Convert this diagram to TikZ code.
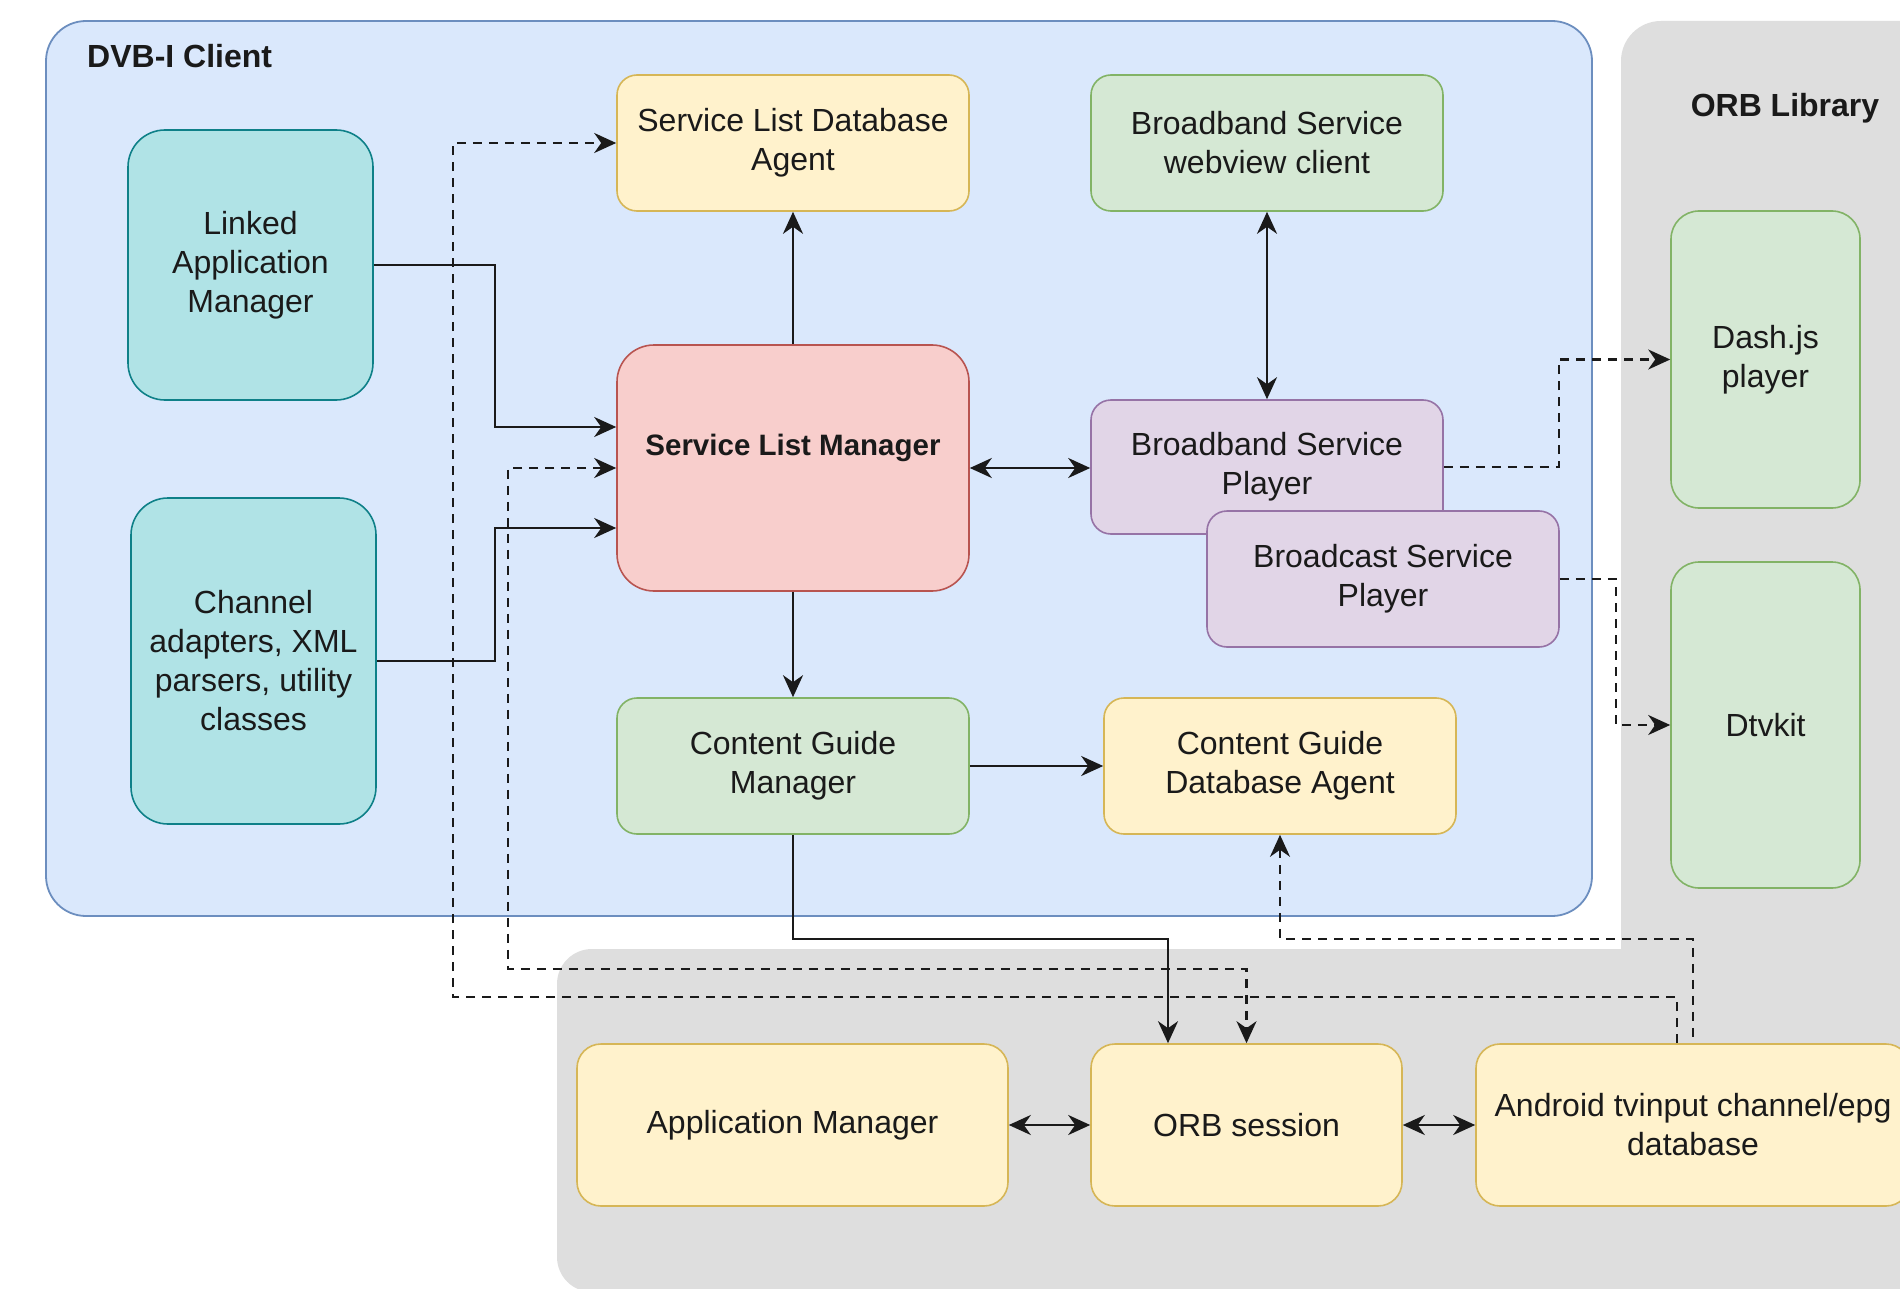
\documentclass[tikz,border=0pt]{standalone}
\usepackage{fontspec}
\setmainfont{Liberation Sans}
\usetikzlibrary{arrows.meta}

\definecolor{blueF}{HTML}{DAE8FC}
\definecolor{blueD}{HTML}{6C8EBF}
\definecolor{orbF}{HTML}{DEDEDE}
\definecolor{ylwF}{HTML}{FFF2CC}
\definecolor{ylwD}{HTML}{D6B656}
\definecolor{grnF}{HTML}{D5E8D4}
\definecolor{grnD}{HTML}{82B366}
\definecolor{redF}{HTML}{F8CECC}
\definecolor{redD}{HTML}{B85450}
\definecolor{purF}{HTML}{E1D5E7}
\definecolor{purD}{HTML}{9673A6}
\definecolor{tealF}{HTML}{B0E3E6}
\definecolor{tealD}{HTML}{0E8088}
\definecolor{ink}{HTML}{1A1A1A}

\begin{document}
\begin{tikzpicture}[x=1pt,y=-1pt,
  >={Stealth[length=22pt,width=20pt,inset=7pt]},
  box/.style={draw, line width=1.6pt, rounded corners=20pt, inner sep=0pt,
    align=center, text=ink, font=\fontsize{32}{39}\selectfont},
  yel/.style={box, fill=ylwF, draw=ylwD},
  grn/.style={box, fill=grnF, draw=grnD},
  red/.style={box, fill=redF, draw=redD},
  pur/.style={box, fill=purF, draw=purD},
  teal/.style={box, fill=tealF, draw=tealD},
  title/.style={font=\fontsize{32}{39}\selectfont\bfseries, text=ink, inner sep=0pt},
  conn/.style={line width=2.6pt, draw=ink},
  arr/.style={conn, ->},
  darr/.style={conn, <->},
  dsh/.style={conn, line width=2.3pt, dash pattern=on 9pt off 7pt},
]
\useasboundingbox (0,0) rectangle (1900,1289);
\fill[white] (0,0) rectangle (1900,1289);

% ORB library area (right column and bottom band)
\begin{scope}
  \clip (0,0) rectangle (1900,1289);
  \fill[orbF, rounded corners=40pt] (1621,21) rectangle (1990,1380);
  \fill[orbF, rounded corners=35pt] (557,949) rectangle (1990,1292);
\end{scope}

% DVB-I client container
\draw[fill=blueF, draw=blueD, line width=1.8pt, rounded corners=40pt] (46,21) rectangle (1592,916);

\node[title, anchor=west] (dvbtitle) at (87,56) {DVB-I Client};
\node[title] (orbtitle) at (1785,108) {ORB Library};

% client components
\node[yel, minimum width=352pt, minimum height=136pt] (slda) at (793,143) {Service List Database\\Agent};
\node[grn, minimum width=352pt, minimum height=136pt] (bswc) at (1267,143) {Broadband Service\\webview client};
\node[teal, rounded corners=37pt, minimum width=245pt, minimum height=270pt] (lam) at (250.5,265) {Linked\\Application\\Manager};
\node[teal, rounded corners=37pt, minimum width=245pt, minimum height=326pt] (ch) at (253.5,661) {Channel\\adapters, XML\\parsers, utility\\classes};
\node[red, rounded corners=37pt, minimum width=352pt, minimum height=246pt] (slm) at (793,468) {};
\node[title, font=\fontsize{29.5}{36}\selectfont\bfseries] (slmtext) at (793,448) {Service List Manager};
\node[pur, minimum width=352pt, minimum height=134pt] (bbsp) at (1267,467) {Broadband Service\\Player};
\node[pur, minimum width=352pt, minimum height=136pt] (bcsp) at (1383,579) {Broadcast Service\\Player};
\node[grn, minimum width=352pt, minimum height=136pt] (cgm) at (793,766) {Content Guide\\Manager};
\node[yel, minimum width=352pt, minimum height=136pt] (cgda) at (1280,766) {Content Guide\\Database Agent};

% ORB library components
\node[grn, rounded corners=28pt, minimum width=189pt, minimum height=297pt] (dash) at (1765.5,359.5) {Dash.js\\player};
\node[grn, rounded corners=28pt, minimum width=189pt, minimum height=326pt] (dtv) at (1765.5,725) {Dtvkit};
\node[yel, rounded corners=24pt, minimum width=431pt, minimum height=162pt] (appm) at (792.5,1125) {Application Manager};
\node[yel, rounded corners=24pt, minimum width=311pt, minimum height=162pt] (orb) at (1246.5,1125) {ORB session};
\node[yel, rounded corners=24pt, minimum width=434pt, minimum height=162pt] (andr) at (1693,1125) {Android tvinput channel/epg\\database};

% solid connectors
\draw[arr] (slm.north) -- (slda.south);
\draw[darr] (bswc.south) -- (bbsp.north);
\draw[darr] (slm.east) -- (slm.east -| bbsp.west);
\draw[arr] (slm.south) -- (cgm.north);
\draw[arr] (cgm.east) -- (cgda.west);
\draw[arr] (cgm.south) -- ++(0,104) -| ([xshift=-78.5pt]orb.north);
\draw[arr] (lam.east) -- ++(121,0) |- ([yshift=41pt]slm.west);
\draw[arr] (ch.east) -- ++(118,0) |- ([yshift=-60pt]slm.west);
\draw[darr] (appm.east) -- (orb.west);
\draw[darr] (orb.east) -- (andr.west);

% dashed connectors
\coordinate (bendA) at (508,969);
\coordinate (bendB) at (453,997);
\draw[dsh, <->] (slm.west) -| (bendA) -| (orb.north);
\draw[dsh, ->] ([xshift=-16pt]andr.north) |- (bendB) |- (slda.west);
\draw[dsh, <-] (cgda.south) -- ++(0,104) -| (andr.north);
\draw[dsh, ->] (bbsp.east) -- ++(115,0) |- (dash.west);
\draw[dsh, ->] (bcsp.east) -- ++(56,0) |- (dtv.west);
\end{tikzpicture}
\end{document}
